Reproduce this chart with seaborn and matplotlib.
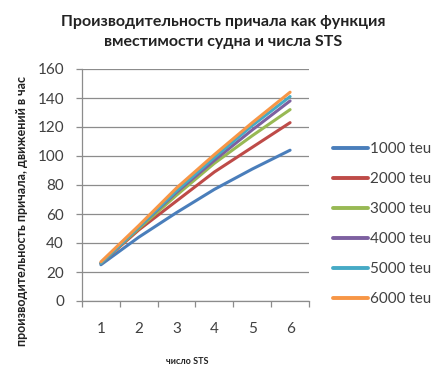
import matplotlib
matplotlib.use("Agg")
import matplotlib.pyplot as plt
from matplotlib.lines import Line2D
from matplotlib.ticker import FixedLocator
import seaborn as sns
import pandas as pd

# Berth productivity (moves per hour) vs number of STS cranes, per vessel size
sts_count = [1, 2, 3, 4, 5, 6]
series_names = ["1000 teu", "2000 teu", "3000 teu", "4000 teu", "5000 teu", "6000 teu"]
teu_1000 = [25, 44, 61, 77, 91, 104]
teu_2000 = [26, 49, 69, 89, 106, 123]
teu_3000 = [26, 50, 73, 95, 114, 132]
teu_4000 = [26, 51, 75, 97, 118, 138]
teu_5000 = [26, 51, 76, 99, 121, 141]
teu_6000 = [27, 52, 78, 101, 123, 144]
y_ticks = [0, 20, 40, 60, 80, 100, 120, 140, 160]

colors = ["#4A7EBB", "#BE4B48", "#98B954", "#7D60A0", "#46AAC5", "#F79646"]

all_series = [teu_1000, teu_2000, teu_3000, teu_4000, teu_5000, teu_6000]
rows = []
for name, vals in zip(series_names, all_series):
    for i, (n, v) in enumerate(zip(sts_count, vals)):
        rows.append({"pos": i, "sts": n, "value": v, "series": name})
df = pd.DataFrame(rows)

sns.set_theme(style="white")
plt.rcParams["font.family"] = ["Lato", "DejaVu Sans"]

fig = plt.figure(figsize=(4.34, 3.74), dpi=100)
fig.patch.set_facecolor("white")
ax = fig.add_axes([82 / 434, 1 - 301 / 374, 227 / 434, 232 / 374])

sns.lineplot(data=df, x="pos", y="value", hue="series", palette=colors,
             linewidth=2.2, ax=ax, legend=False, sort=False)

ax.set_xlim(-0.5, 5.5)
ax.set_ylim(0, 160)
ax.set_yticks(y_ticks)
ax.set_yticklabels([str(t) for t in y_ticks])
ax.yaxis.grid(True, color="#8c8c8c", linewidth=0.9)
ax.set_axisbelow(True)

# category labels at centres, tick marks between categories
ax.set_xticks(range(len(sts_count)))
ax.set_xticklabels([str(n) for n in sts_count])
ax.xaxis.set_minor_locator(FixedLocator([i - 0.5 for i in range(len(sts_count) + 1)]))
ax.tick_params(axis="x", which="major", length=0, pad=15, labelsize=11, labelcolor="#404040")
ax.tick_params(axis="x", which="minor", length=4, width=0.9, color="#8c8c8c", direction="out", bottom=True)
ax.tick_params(axis="y", which="major", length=4, width=0.9, color="#8c8c8c", direction="out",
               left=True, pad=9, labelsize=11, labelcolor="#404040")

for side in ["top", "right"]:
    ax.spines[side].set_visible(False)
for side in ["left", "bottom"]:
    ax.spines[side].set_color("#8c8c8c")
    ax.spines[side].set_linewidth(0.9)

ax.set_xlabel("")
ax.set_ylabel("")

fig.text(223 / 434, 1 - 22 / 374, "Производительность причала как функция",
         ha="center", va="center", fontsize=11.5, fontweight="bold", color="#222222")
fig.text(223 / 434, 1 - 42 / 374, "вместимости судна и числа STS",
         ha="center", va="center", fontsize=11.5, fontweight="bold", color="#222222")

fig.text(22 / 434, 1 - 211 / 374, "производительность причала, движений в час",
         rotation=90, ha="center", va="center", fontsize=9, fontweight="bold", color="#222222")
fig.text(187 / 434, 1 - 362 / 374, "число STS",
         ha="center", va="center", fontsize=6.5, fontweight="bold", color="#222222")

handles = [Line2D([0], [0], color=c, linewidth=2.8) for c in colors]
leg = fig.legend(handles, series_names, loc="upper left",
                 bbox_to_anchor=(333 / 434, 1 - 142 / 374),
                 frameon=False, fontsize=11, handlelength=2.3, handletextpad=0.15,
                 labelspacing=1.05, borderpad=0, borderaxespad=0)
for t in leg.get_texts():
    t.set_color("#404040")

fig.savefig("out.png", dpi=100, facecolor="white")
